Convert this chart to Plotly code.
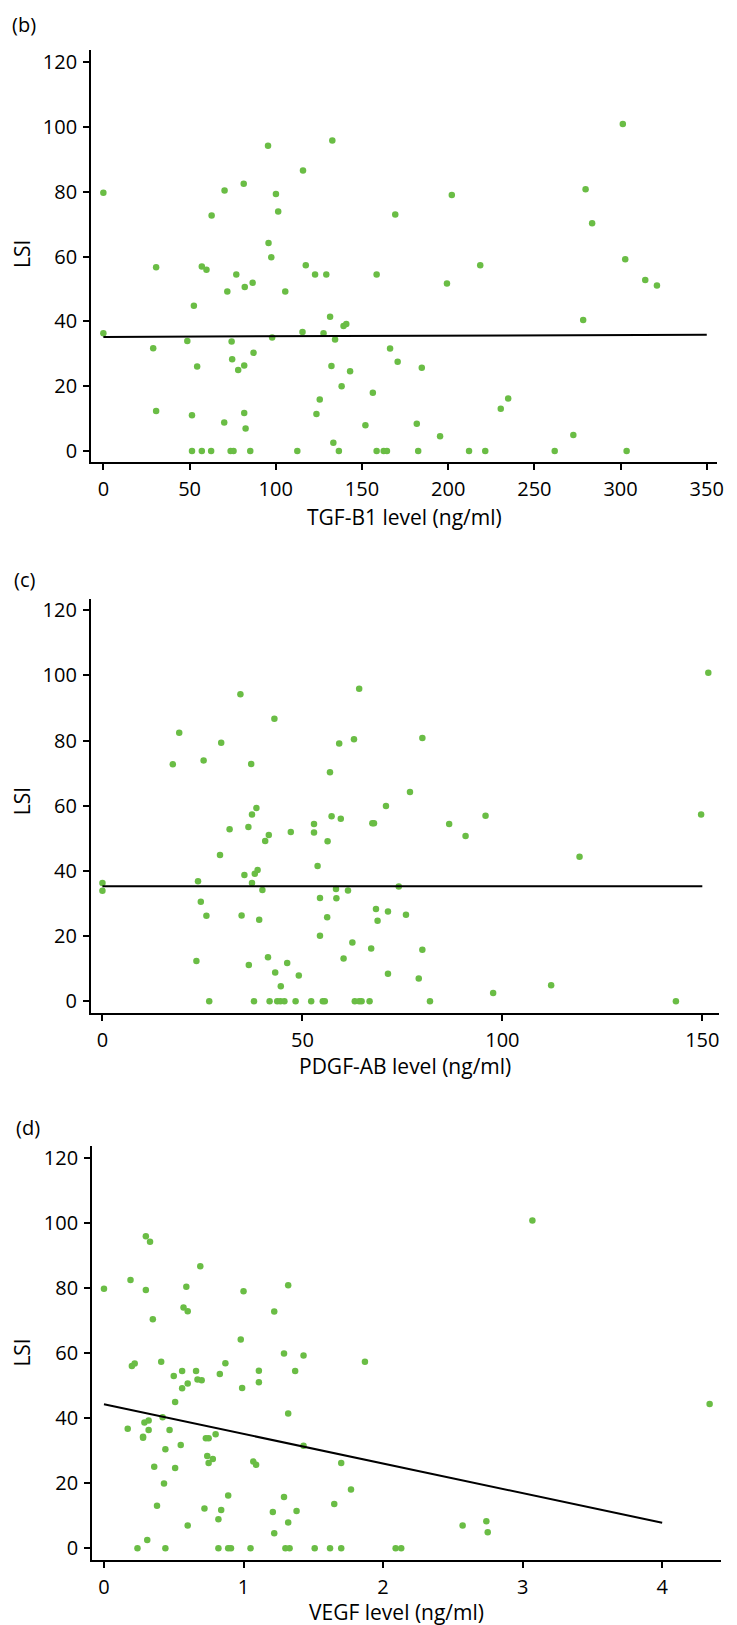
import plotly.graph_objects as go

W, H = 737, 1625

# ---------------- data ----------------
tgf_x = [0, 0, 28.9, 30.6, 30.6, 48.7, 51.4, 52.5, 54.4, 57.1, 59.8, 62.8, 51.4, 57.1, 62.5,
         70.3, 71.9, 70.1, 74.4, 74.7, 73.8, 75.5, 77.1, 78.2, 81.4, 82.0, 81.7, 81.7, 82.5, 85.2,
         86.6, 87.1, 95.5, 95.8, 97.4, 97.9, 100.1, 101.4, 105.5, 112.5, 115.8, 117.4, 115.5, 122.8,
         123.6, 125.5, 127.7, 129.3, 131.5, 132.8, 132.3, 133.4, 134.4, 136.6, 138.2, 139.3, 140.9,
         143.1, 152.0, 156.3, 158.5, 158.5, 162.6, 164.5, 166.3, 169.3, 170.7, 181.8, 182.6, 184.7,
         195.3, 199.3, 202.1, 212.1, 218.6, 221.5, 230.5, 234.8, 261.8, 272.6, 278.3, 279.7, 283.5,
         301.3, 302.7, 303.5, 314.3, 321.1]
tgf_lsi = [79.7, 36.3, 31.7, 56.7, 12.3, 33.9, 11.0, 44.8, 26.1, 56.9, 55.9, 72.7, 0, 0, 0,
           80.4, 49.2, 8.8, 33.8, 28.3, 0, 0, 54.5, 25.0, 82.5, 50.6, 26.4, 11.7, 6.9, 0,
           51.9, 30.3, 94.2, 64.2, 59.8, 35.0, 79.3, 73.9, 49.2, 0, 86.6, 57.3, 36.7, 54.5,
           11.4, 15.9, 36.3, 54.5, 41.4, 95.8, 26.2, 2.5, 34.4, 0, 20.0, 38.6, 39.2,
           24.6, 7.9, 18.0, 54.5, 0, 0, 0, 31.6, 73.0, 27.5, 8.4, 0, 25.7,
           4.5, 51.7, 79.0, 0, 57.3, 0, 13.0, 16.2, 0, 4.9, 40.4, 80.8, 70.3,
           100.9, 59.2, 0, 52.8, 51.1]
tgf_fit_x = [0, 350]
tgf_fit_y = [35.2, 35.9]

pdgf_x = [0, 0, 17.6, 19.2, 23.5, 23.9, 24.6, 25.3, 26.0, 26.7, 29.4, 29.7, 31.8, 34.5, 34.8,
          35.5, 36.5, 36.6, 37.2, 37.4, 37.4, 37.9, 38.1, 38.5, 38.8, 39.2, 40.0, 40.7, 41.4,
          41.6, 41.8, 43.0, 43.2, 43.7, 44.5, 44.6, 45.5, 46.2, 47.1, 48.3, 49.1, 52.2, 52.9,
          52.9, 53.8, 54.4, 54.4, 55.1, 55.6, 56.2, 56.3, 56.9, 57.3, 58.4, 58.5, 59.2, 59.6,
          60.3, 61.4, 62.5, 62.9, 63.1, 64.2, 64.2, 64.8, 66.8, 67.2, 67.5, 67.9, 68.4, 68.8,
          70.9, 71.4, 71.4, 74.1, 75.9, 76.9, 79.1, 80.0, 80.0, 81.9, 86.7, 90.8, 95.8, 97.7,
          112.2, 119.3, 143.4, 149.7, 151.5]
pdgf_lsi = [36.3, 33.9, 72.7, 82.4, 12.3, 36.8, 30.5, 73.9, 26.2, 0, 44.9, 79.3, 52.8, 94.2, 26.3,
            38.7, 53.5, 11.1, 72.8, 57.3, 36.3, 0, 39.1, 59.3, 40.3, 25.0, 34.1, 49.2, 13.5,
            51.0, 0, 86.7, 8.8, 0, 0, 4.6, 0, 11.7, 51.9, 0, 7.9, 0, 54.4,
            51.8, 41.5, 31.7, 20.1, 0, 0, 25.8, 49.1, 70.3, 56.8, 34.4, 31.6, 79.1, 56.0,
            13.1, 34.0, 18.0, 80.4, 0, 95.9, 0, 0, 0, 16.2, 54.6, 54.6, 28.3, 24.7,
            59.9, 27.5, 8.4, 35.2, 26.5, 64.2, 7.0, 80.8, 15.8, 0, 54.4, 50.7, 56.9, 2.5,
            4.9, 44.3, 0, 57.3, 100.8]
pdgf_fit_x = [0, 150]
pdgf_fit_y = [35.3, 35.3]

vegf_x = [0, 0.17, 0.19, 0.20, 0.22, 0.24, 0.28, 0.28, 0.29, 0.30, 0.30, 0.31, 0.32, 0.32, 0.33,
          0.35, 0.36, 0.38, 0.41, 0.42, 0.43, 0.44, 0.44, 0.47, 0.50, 0.51, 0.51, 0.55, 0.56,
          0.56, 0.57, 0.59, 0.60, 0.60, 0.60, 0.66, 0.67, 0.69, 0.70, 0.72, 0.73, 0.74, 0.75,
          0.75, 0.78, 0.80, 0.82, 0.82, 0.83, 0.84, 0.87, 0.89, 0.89, 0.91, 0.98, 0.99, 1.00,
          1.05, 1.07, 1.09, 1.11, 1.11, 1.21, 1.22, 1.22, 1.29, 1.29, 1.30, 1.32, 1.32, 1.32,
          1.33, 1.37, 1.38, 1.43, 1.43, 1.51, 1.62, 1.65, 1.70, 1.70, 1.77, 1.87, 2.09, 2.13,
          2.57, 2.74, 2.75, 3.07, 4.34]
vegf_lsi = [79.7, 36.7, 82.4, 56.0, 56.7, 0, 34.2, 33.9, 38.6, 95.8, 79.3, 2.5, 39.2, 36.3, 94.1,
            70.3, 25.0, 13.0, 57.3, 40.2, 19.9, 30.4, 0, 36.3, 52.9, 24.6, 44.9, 31.7, 49.1,
            54.4, 73.9, 80.3, 50.6, 7.0, 72.8, 54.4, 51.8, 86.6, 51.6, 12.2, 33.8, 28.3, 26.2,
            33.8, 27.4, 35.0, 8.9, 0, 53.5, 11.7, 56.8, 16.2, 0, 0, 64.1, 49.2, 78.9,
            0, 26.6, 25.6, 51.0, 54.5, 11.1, 4.6, 72.7, 15.7, 59.8, 0, 41.4, 80.8, 7.9,
            0, 54.4, 11.4, 59.2, 31.5, 0, 0, 13.6, 26.2, 0, 18.0, 57.3, 0, 0,
            7.0, 8.3, 4.9, 100.7, 44.3]
vegf_fit_x = [0, 4]
vegf_fit_y = [44.2, 7.8]

lsi_ticks = [0, 20, 40, 60, 80, 100, 120]
tgf_ticks = [0, 50, 100, 150, 200, 250, 300, 350]
pdgf_ticks = [0, 50, 100, 150]
vegf_ticks = [0, 1, 2, 3, 4]

panel_labels = ["(b)", "(c)", "(d)"]
x_titles = ["TGF-B1 level (ng/ml)", "PDGF-AB level (ng/ml)", "VEGF level (ng/ml)"]
y_title = "LSI"

# ---------------- layout helpers (pixels -> paper) ----------------
def px(x):
    return x / W

def py(y):
    return 1 - y / H

FONT = "Open Sans"
GREEN = "#6abd45"

panels = [
    dict(x=tgf_x, y=tgf_lsi, fx=tgf_fit_x, fy=tgf_fit_y, ticks=tgf_ticks,
         xdom=(92, 724), ydom=(47, 460.7), xr=[-7.1, 356.0], yr=[-3.5, 123.8],
         lab=(24, 22), xt=(408, 516), yt=(22, 252)),
    dict(x=pdgf_x, y=pdgf_lsi, fx=pdgf_fit_x, fy=pdgf_fit_y, ticks=pdgf_ticks,
         xdom=(91.7, 726), ydom=(597.7, 1012.7), xr=[-2.9, 154.2], yr=[-3.5, 123.5],
         lab=(25, 578), xt=(409, 1066), yt=(22, 801)),
    dict(x=vegf_x, y=vegf_lsi, fx=vegf_fit_x, fy=vegf_fit_y, ticks=vegf_ticks,
         xdom=(93, 727.7), ydom=(1146.7, 1561.7), xr=[-0.085, 4.42], yr=[-3.6, 123.5],
         lab=(28, 1128), xt=(400, 1614), yt=(22, 1354)),
]

fig = go.Figure()
annotations = []
layout_axes = {}

for i, p in enumerate(panels, start=1):
    xa = "x" if i == 1 else f"x{i}"
    ya = "y" if i == 1 else f"y{i}"
    fig.add_trace(go.Scatter(x=p["x"], y=p["y"], mode="markers", xaxis=xa, yaxis=ya,
                             marker=dict(color=GREEN, size=6.5, line=dict(width=0)),
                             showlegend=False, cliponaxis=False))
    fig.add_trace(go.Scatter(x=p["fx"], y=p["fy"], mode="lines", xaxis=xa, yaxis=ya,
                             line=dict(color="black", width=2), showlegend=False))
    common = dict(showline=True, linecolor="black", linewidth=2, ticks="outside",
                  ticklen=6, tickwidth=1.5, tickcolor="black", showgrid=False,
                  zeroline=False, tickfont=dict(family=FONT, size=20, color="black"))
    layout_axes["xaxis" if i == 1 else f"xaxis{i}"] = dict(
        domain=[px(p["xdom"][0]), px(p["xdom"][1])], range=p["xr"],
        tickvals=p["ticks"], anchor=ya, ticklabelstandoff=2, **common)
    layout_axes["yaxis" if i == 1 else f"yaxis{i}"] = dict(
        domain=[py(p["ydom"][1]), py(p["ydom"][0])], range=p["yr"],
        tickvals=lsi_ticks, anchor=xa, ticklabelstandoff=2, **common)
    annotations.append(dict(text=panel_labels[i - 1], x=px(p["lab"][0]), y=py(p["lab"][1]),
                            xref="paper", yref="paper", showarrow=False,
                            xanchor="center", yanchor="middle",
                            font=dict(family=FONT, size=20, color="black")))
    annotations.append(dict(text=x_titles[i - 1], x=px(p["xt"][0]), y=py(p["xt"][1]),
                            xref="paper", yref="paper", showarrow=False,
                            xanchor="center", yanchor="middle",
                            font=dict(family=FONT, size=21, color="black")))
    annotations.append(dict(text=y_title, x=px(p["yt"][0]), y=py(p["yt"][1]),
                            xref="paper", yref="paper", showarrow=False, textangle=-90,
                            xanchor="center", yanchor="middle",
                            font=dict(family=FONT, size=21, color="black")))

fig.update_layout(width=W, height=H, margin=dict(l=0, r=0, t=0, b=0),
                  paper_bgcolor="white", plot_bgcolor="white",
                  annotations=annotations, **layout_axes)

fig.write_html("out.html")
